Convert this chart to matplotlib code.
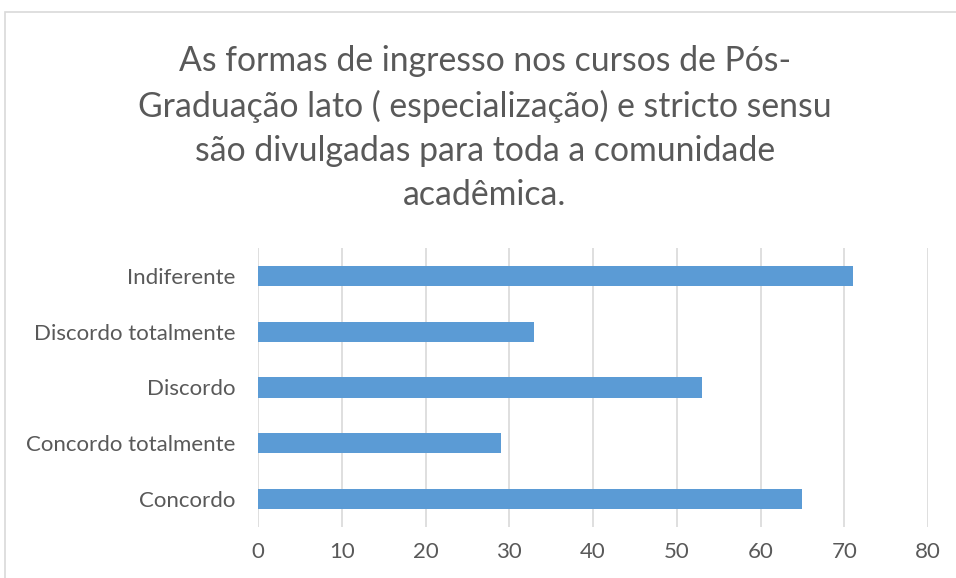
import matplotlib
matplotlib.use("Agg")
import matplotlib.pyplot as plt
from matplotlib.patches import Rectangle

categories = ["Concordo", "Concordo totalmente", "Discordo", "Discordo totalmente", "Indiferente"]
values = [65, 29, 53, 33, 71]
xticks = [0, 10, 20, 30, 40, 50, 60, 70, 80]
title = ("As formas de ingresso nos cursos de Pós-\n"
         "Graduação lato ( especialização) e stricto sensu\n"
         "são divulgadas para toda a comunidade\n"
         "acadêmica.")

plt.rcParams['font.family'] = ['Lato', 'DejaVu Sans']
W, H = 956, 578
fig = plt.figure(figsize=(W/100, H/100), dpi=100)
fig.patch.set_facecolor('white')

# chart border (cropped at right/bottom)
fig.patches.append(Rectangle((4.5/W, -0.1), 1.2, 1 - 12.5/H + 0.1, transform=fig.transFigure,
                             fill=False, edgecolor='#D9D9D9', linewidth=1.2))

ax = fig.add_axes([258/W, 1 - 527/H, (928-258)/W, (527-248)/H])
ax.barh(range(len(categories)), values, height=0.36, color='#5B9BD5', zorder=3)
ax.set_yticks(range(len(categories)))
ax.set_yticklabels(categories, fontsize=16, color='#595959')
ax.set_xticks(xticks)
ax.set_xticklabels([str(t) for t in xticks], fontsize=16, color='#595959')
ax.set_xlim(0, 80)
ax.set_ylim(-0.5, len(categories) - 0.5)
ax.grid(axis='x', color='#D9D9D9', linewidth=1.2, zorder=0)
for s in ax.spines.values():
    s.set_visible(False)
ax.tick_params(length=0)
ax.tick_params(axis='x', pad=11)
ax.tick_params(axis='y', pad=16)

fig.text(485/W, 1 - 128/H, title, ha='center', va='center', fontsize=24.3,
         color='#595959', linespacing=1.46)

fig.savefig("out.png", dpi=100)
